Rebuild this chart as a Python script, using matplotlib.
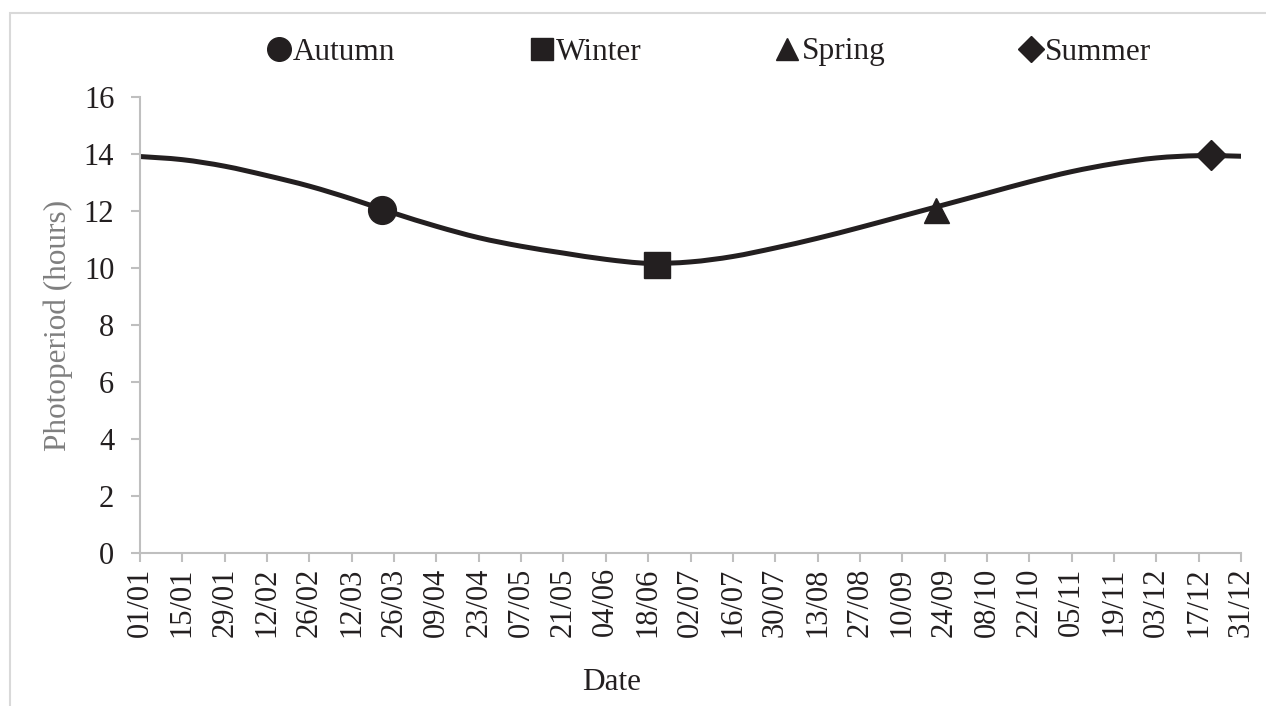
import matplotlib.pyplot as plt
from matplotlib.lines import Line2D
from matplotlib.patches import Rectangle, PathPatch
from matplotlib.path import Path

plt.rcParams['font.family'] = ['Liberation Serif', 'DejaVu Serif']

# day of year (0 = 01/01), one reading every 14 days
days = [0, 14, 28, 42, 56, 70, 84, 98, 112, 126, 140, 154, 168, 182,
        196, 210, 224, 238, 252, 266, 280, 294, 308, 322, 336, 350, 364]
photoperiod = [13.91, 13.80, 13.57, 13.24, 12.87, 12.42, 11.92, 11.46, 11.06,
               10.76, 10.52, 10.30, 10.16, 10.21, 10.40, 10.70, 11.04, 11.42,
               11.82, 12.22, 12.62, 13.02, 13.38, 13.66, 13.86, 13.94, 13.92]
tick_labels = ['01/01', '15/01', '29/01', '12/02', '26/02', '12/03', '26/03',
               '09/04', '23/04', '07/05', '21/05', '04/06', '18/06', '02/07',
               '16/07', '30/07', '13/08', '27/08', '10/09', '24/09', '08/10',
               '22/10', '05/11', '19/11', '03/12', '17/12', '31/12']

# season starts (equinoxes / solstices)
seasons = ['Autumn', 'Winter', 'Spring', 'Summer']
season_days = [80, 171, 263, 354]
season_values = [12.03, 10.11, 12.04, 13.95]
season_markers = ['o', 's', '^', 'D']
season_sizes = [20, 19, 18, 15]

ink = '#231f20'
grey = '#bfbfbf'


def smooth_path(xs, ys):
    # Catmull-Rom through the points, drawn as cubic Bezier segments (like a smoothed line)
    verts = [(xs[0], ys[0])]
    codes = [Path.MOVETO]
    n = len(xs)
    for i in range(n - 1):
        x0, y0 = (xs[i - 1], ys[i - 1]) if i > 0 else (xs[i], ys[i])
        x1, y1 = xs[i], ys[i]
        x2, y2 = xs[i + 1], ys[i + 1]
        x3, y3 = (xs[i + 2], ys[i + 2]) if i + 2 < n else (x2, y2)
        c1 = (x1 + (x2 - x0) / 6, y1 + (y2 - y0) / 6)
        c2 = (x2 - (x3 - x1) / 6, y2 - (y3 - y1) / 6)
        verts += [c1, c2, (x2, y2)]
        codes += [Path.CURVE4] * 3
    return Path(verts, codes)


fig = plt.figure(figsize=(12.66, 7.06), dpi=100)
ax = fig.add_axes([140 / 1266, 1 - 552.7 / 706, 1101 / 1266, 455.7 / 706])

ax.add_patch(PathPatch(smooth_path(days, photoperiod), fill=False, edgecolor=ink, lw=3.6,
                       capstyle='round', zorder=2))
handles = []
for name, d, v, m, s in zip(seasons, season_days, season_values, season_markers, season_sizes):
    ax.plot([d], [v], marker=m, ms=s, color=ink, ls='none', zorder=3)
    handles.append(Line2D([], [], marker=m, ms=s * 0.85, color=ink, ls='none', label=name))

ax.set_xlim(0, 364)
ax.set_ylim(0, 16)
ax.set_xticks(days)
ax.set_xticklabels(tick_labels, rotation=90)
ax.set_yticks(range(0, 17, 2))

for side in ['top', 'right']:
    ax.spines[side].set_visible(False)
for side in ['left', 'bottom']:
    ax.spines[side].set_color(grey)
    ax.spines[side].set_linewidth(1.5)
ax.tick_params(axis='both', colors=grey, length=6.5, width=1.5, labelcolor=ink, labelsize=22)
ax.tick_params(axis='y', pad=12)
ax.tick_params(axis='x', pad=4)

fig.text(58 / 1266, 1 - 325 / 706, 'Photoperiod (hours)', rotation=90, color='#7f7f7f',
         fontsize=22.5, ha='center', va='center')
fig.text(612 / 1266, 1 - 683 / 706, 'Date', color=ink, fontsize=22.5, ha='center', va='center')

fig.legend(handles=handles, loc='center', bbox_to_anchor=(709 / 1266, 1 - 52 / 706), ncol=4,
           frameon=False, fontsize=22.5, handlelength=0.8, handletextpad=0.05, columnspacing=4.27,
           labelcolor=ink)

# light outer frame of the chart area
fig.patches.append(Rectangle((10 / 1266, -0.1), 1.2, 1 - 13 / 706 + 0.1, transform=fig.transFigure,
                             fill=False, edgecolor='#d9d9d9', lw=1.5))

fig.savefig('out.png', dpi=100)
